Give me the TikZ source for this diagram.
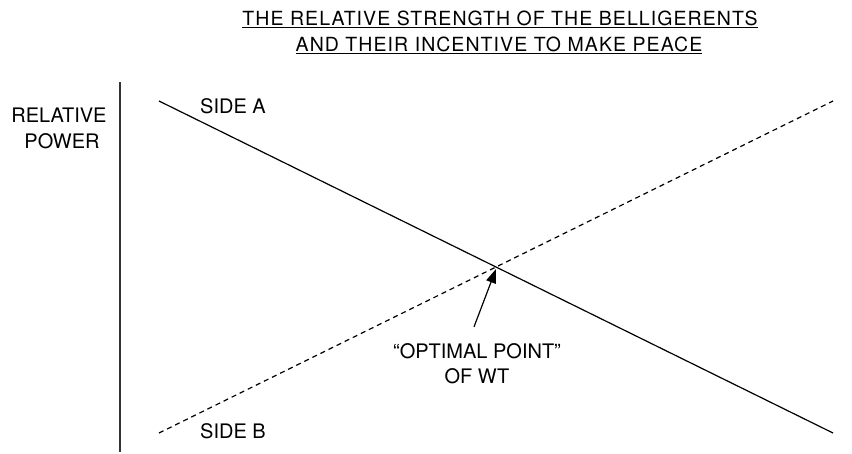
\documentclass[tikz,border=0pt]{standalone}
\usepackage{fontspec}
\setmainfont{TeX Gyre Heros}
\usetikzlibrary{arrows.meta}
\begin{document}
\begin{tikzpicture}[x=1pt, y=-1pt,
    lbl/.style={font=\fontsize{20}{24}\selectfont, inner sep=0pt, anchor=base},
    heading/.style={lbl, font=\fontsize{19.5}{24}\selectfont\addfontfeature{LetterSpace=5.5}},
    curve/.style={line width=1.2pt},
    axisline/.style={line width=1.6pt, black!80}]
    \useasboundingbox (0,0) rectangle (852,453);

    % Title
    \node[heading] (title1) at (500,25) {\underline{THE RELATIVE STRENGTH OF THE BELLIGERENTS}};
    \node[heading] (title2) at (499,51) {\underline{AND THEIR INCENTIVE TO MAKE PEACE}};

    % Vertical axis
    \draw[axisline] (120,82) -- (120,452);
    \node[lbl] (rel) at (59,122) {RELATIVE};
    \node[lbl] (pow) at (62,148) {POWER};

    % The two sides
    \coordinate (a0) at (159,101);
    \coordinate (a1) at (833,433);
    \coordinate (b0) at (159,433);
    \coordinate (b1) at (833,101);
    \draw[curve] (a0) -- (a1);
    \draw[curve, dash pattern=on 5pt off 4pt] (b0) -- (b1);
    \node[lbl, anchor=base west] (sideA) at (200,113) {SIDE A};
    \node[lbl, anchor=base west] (sideB) at (200,438) {SIDE B};

    % Optimal point
    \coordinate (opt) at (intersection of a0--a1 and b0--b1);
    \node[lbl] (optimal) at (477,358) {``OPTIMAL POINT''};
    \node[lbl] (ofwt) at (477,383) {OF WT};
    \draw[line width=1.2pt, -{Triangle[length=14pt, width=10pt]}]
        ([xshift=-3pt, yshift=16pt]optimal.north) -- ([yshift=-2pt]opt);
\end{tikzpicture}
\end{document}
